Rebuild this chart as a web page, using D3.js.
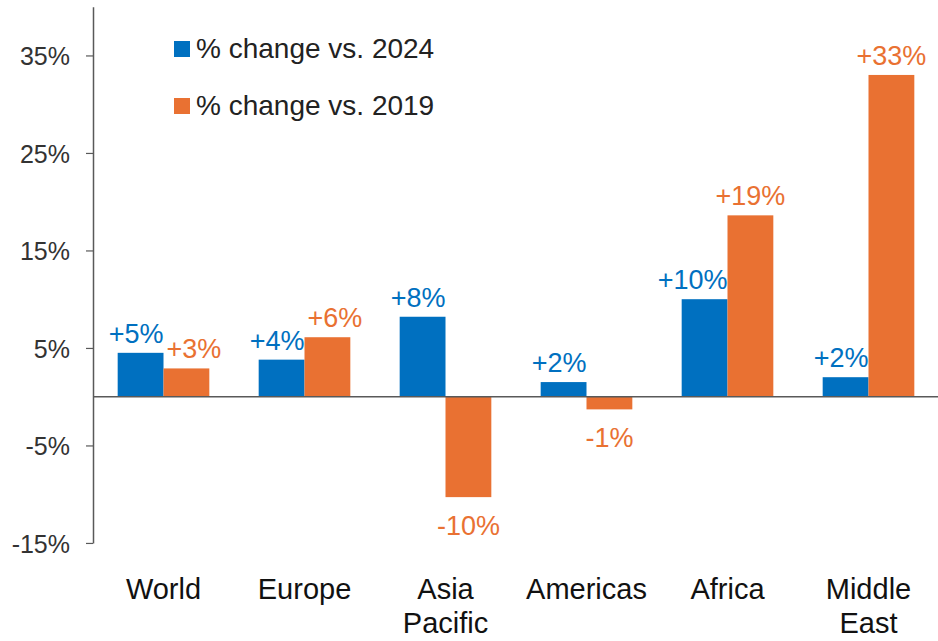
<!DOCTYPE html>
<html>
<head>
<meta charset="utf-8">
<title>% change by region</title>
<script src="https://cdn.jsdelivr.net/npm/d3@7"></script>
<style>
body { margin: 0; background: #fff; }
text { font-family: "Liberation Sans", Arial, sans-serif; }
.axis path, .axis line { stroke: #595959; }
</style>
</head>
<body>
<script>
var width = 938;
var height = 641;

// chart data
var regions = ["World", "Europe", "Asia\nPacific", "Americas", "Africa", "Middle\nEast"];
var series = ["% change vs. 2024", "% change vs. 2019"];
var vs2024 = [4.5, 3.8, 8.2, 1.5, 10.0, 2.0];
var vs2019 = [2.9, 6.1, -10.3, -1.3, 18.6, 33.0];
var labels2024 = ["+5%", "+4%", "+8%", "+2%", "+10%", "+2%"];
var labels2019 = ["+3%", "+6%", "-10%", "-1%", "+19%", "+33%"];
var yTicks = [35, 25, 15, 5, -5, -15];

var colors = ["#0070C0", "#E97132"];

var margin = {left: 93, top: 10, right: 0};
var zeroY = 396.7;
var pxPerPct = 9.75;

var svg = d3.select("body").append("svg")
  .attr("width", width).attr("height", height);

var x0 = d3.scaleBand()
  .domain(regions)
  .range([margin.left, margin.left + 141 * regions.length])
  .paddingInner(0.35)
  .paddingOuter(0.175);

var x1 = d3.scaleBand()
  .domain(series)
  .range([0, x0.bandwidth()]);

var y = d3.scaleLinear()
  .domain([-15, 40])
  .range([zeroY + 15 * pxPerPct, zeroY - 40 * pxPerPct]);

// y axis
var yAxis = svg.append("g")
  .attr("class", "axis")
  .attr("transform", "translate(" + margin.left + ",0)")
  .call(d3.axisLeft(y).tickValues(yTicks).tickSize(7).tickSizeOuter(0)
    .tickFormat(function(d) { return d + "%"; }));
yAxis.select(".domain").attr("stroke-width", 1.5);
yAxis.selectAll("line").attr("stroke-width", 1.2);
yAxis.selectAll("text")
  .attr("x", -23)
  .attr("dy", "0.37em")
  .attr("fill", "#333")
  .style("font-size", "25px")
  .style("font-family", "'Liberation Sans', Arial, sans-serif");

var rows = regions.map(function(r, i) {
  return {region: r, vals: [
    {s: series[0], v: vs2024[i], label: labels2024[i], k: 0},
    {s: series[1], v: vs2019[i], label: labels2019[i], k: 1}
  ]};
});

var groups = svg.selectAll(".group")
  .data(rows)
  .enter().append("g")
  .attr("class", "group")
  .attr("transform", function(d) { return "translate(" + x0(d.region) + ",0)"; });

groups.selectAll("rect")
  .data(function(d) { return d.vals; })
  .enter().append("rect")
  .attr("x", function(d) { return x1(d.s); })
  .attr("width", x1.bandwidth())
  .attr("y", function(d) { return y(Math.max(0, d.v)); })
  .attr("height", function(d) { return Math.abs(y(d.v) - y(0)); })
  .attr("fill", function(d) { return colors[d.k]; });

// zero line
svg.append("line")
  .attr("x1", margin.left).attr("x2", width)
  .attr("y1", y(0)).attr("y2", y(0))
  .attr("stroke", "#595959").attr("stroke-width", 1.5);

// value labels
groups.each(function(d) {
  var g = d3.select(this);
  var blue = d.vals[0], orange = d.vals[1];
  var bx = x1(blue.s), bw = x1.bandwidth();
  var tb = g.append("text")
    .attr("x", bx + bw)
    .attr("y", blue.v >= 0 ? y(blue.v) - 10 : y(blue.v) + 38)
    .attr("text-anchor", "end")
    .attr("fill", colors[0])
    .style("font-size", "27px")
    .text(blue.label);
  var bb = tb.node().getBBox();

  var ox = x1(orange.s);
  var ty = orange.v >= 0 ? y(orange.v) - 10 : y(orange.v) + 38;
  var to = g.append("text")
    .attr("x", ox + bw / 2)
    .attr("y", ty)
    .attr("text-anchor", "middle")
    .attr("fill", colors[1])
    .style("font-size", "27px")
    .text(orange.label);
  var ob = to.node().getBBox();
  var overlapV = ob.y < bb.y + bb.height && ob.y + ob.height > bb.y;
  if (overlapV && ob.x < bb.x + bb.width + 3) {
    to.attr("text-anchor", "start").attr("x", bb.x + bb.width + 3);
  }
});

// category labels
groups.append("text")
  .attr("text-anchor", "middle")
  .attr("fill", "#111")
  .style("font-size", "29px")
  .selectAll("tspan")
  .data(function(d) { return d.region.split("\n"); })
  .enter().append("tspan")
  .attr("x", x0.bandwidth() / 2)
  .attr("y", function(d, i) { return 599 + i * 34; })
  .text(function(d) { return d; });

// legend
var legend = svg.selectAll(".legend")
  .data(series)
  .enter().append("g")
  .attr("class", "legend")
  .attr("transform", function(d, i) { return "translate(174," + (41 + i * 57) + ")"; });

legend.append("rect")
  .attr("width", 16).attr("height", 16)
  .attr("fill", function(d, i) { return colors[i]; });

legend.append("text")
  .attr("x", 22)
  .attr("y", 17)
  .attr("fill", "#222")
  .style("font-size", "28px")
  .text(function(d) { return d; });
</script>
</body>
</html>
